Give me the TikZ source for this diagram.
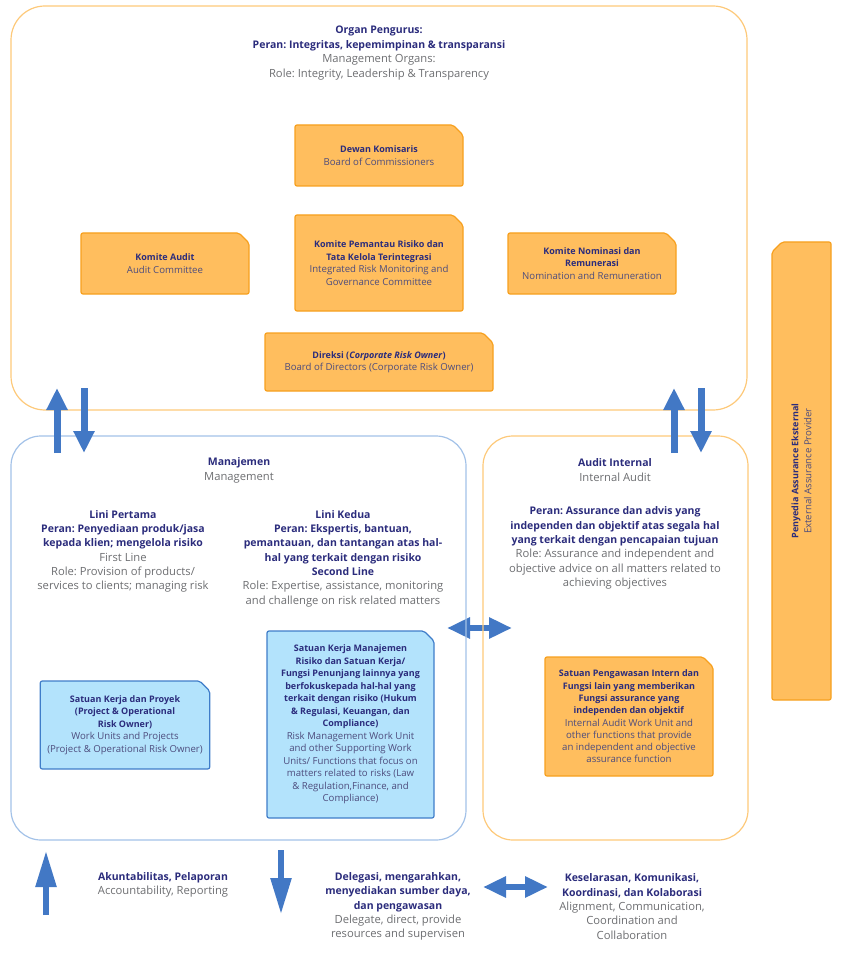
\documentclass[tikz,border=0pt]{standalone}
\usepackage{fontspec}
\setmainfont{Open Sans}
\newfontfamily\enfont[Scale=1.07]{Open Sans}
\frenchspacing
\usetikzlibrary{arrows.meta,shapes.misc}
\definecolor{navy}{HTML}{2B2C7C}
\definecolor{engray}{HTML}{6D6E71}
\definecolor{boxtxt}{HTML}{4D4C7D}
\definecolor{orfill}{HTML}{FFBE5E}
\definecolor{orline}{HTML}{F7A01E}
\definecolor{blfill}{HTML}{B3E3FC}
\definecolor{blline}{HTML}{3F7DC9}
\definecolor{panelor}{HTML}{FDC97A}
\definecolor{panelbl}{HTML}{A3C2E8}
\definecolor{arrowbl}{HTML}{4278C5}
\newcommand\bl[1]{\textbf{#1}}
\newcommand\en[1]{{\enfont\color{engray}#1}}
\newcommand\enb[1]{{\enfont\color{boxtxt}#1}}
\tikzset{
  panel/.style={draw,line width=1.2pt,rounded corners=34pt},
  orgbox/.style={chamfered rectangle,chamfered rectangle corners=north east,
    chamfered rectangle sep=5pt,rounded corners=2pt,draw=orline,fill=orfill,
    line width=1.2pt,align=center,text=navy,inner sep=2pt,
    font=\fontsize{9}{12.5}\selectfont},
  unitbox/.style={orgbox,draw=blline,fill=blfill},
  lbl/.style={align=center,text=navy,font=\fontsize{10.5}{14.3}\selectfont},
  fatarrow/.style={draw=arrowbl,line width=7pt,-{Triangle[width=20pt,length=22pt]}},
  thinarrow/.style={draw=arrowbl,line width=5.5pt,-{Triangle[width=20pt,length=36pt]}},
  twoway/.style={draw=arrowbl,line width=6pt,{Triangle[width=20pt,length=23pt]}-{Triangle[width=20pt,length=23pt]}}
}
\begin{document}
\begin{tikzpicture}[x=1pt,y=-1pt]
\useasboundingbox (0,0) rectangle (841,957);

% links between management and internal audit (under the panel lines)
\coordinate (mE) at (447,628);
\coordinate (aW) at (512,628);
\draw[twoway] (mE) -- (aW);

% panels
\node[panel,draw=panelor,minimum width=736pt,minimum height=404pt] (organ) at (379,208) {};
\node[panel,draw=panelbl,rounded corners=30pt,minimum width=455pt,minimum height=404pt] (mgmt) at (238.5,638) {};
\node[panel,draw=panelor,rounded corners=30pt,minimum width=265pt,minimum height=404pt] (audit) at (615.5,638) {};

% organ pengurus
\node[lbl,font=\fontsize{10.5}{14.7}\selectfont] (organT) at (379,53)
  {\bl{Organ Pengurus:}\\\bl{Peran: Integritas, kepemimpinan \& transparansi}\\
   \en{Management Organs:}\\\en{Role: Integrity, Leadership \& Transparency}};
\node[orgbox,minimum width=168pt,minimum height=61pt] (dewan) at (379,155.5)
  {\bl{Dewan Komisaris}\\\enb{Board of Commissioners}};
\node[orgbox,minimum width=168pt,minimum height=96pt] (pemantau) at (379,263)
  {\bl{Komite Pemantau Risiko dan}\\\bl{Tata Kelola Terintegrasi}\\
   \enb{Integrated Risk Monitoring and}\\\enb{Governance Committee}};
\node[orgbox,minimum width=168pt,minimum height=61pt] (kaudit) at (165,263.5)
  {\bl{Komite Audit}\\\enb{Audit Committee}};
\node[orgbox,minimum width=168pt,minimum height=61pt] (nominasi) at (592,263.5)
  {\bl{Komite Nominasi dan}\\\bl{Remunerasi}\\\enb{Nomination and Remuneration}};
\node[orgbox,minimum width=228pt,minimum height=58pt] (direksi) at (379,362)
  {\bl{Direksi (\textit{Corporate Risk Owner})}\\\enb{Board of Directors (Corporate Risk Owner)}};

% manajemen
\node[lbl,font=\fontsize{10.5}{15}\selectfont] (mgmtT) at (239,470.5)
  {\bl{Manajemen}\\\en{Management}};
\node[lbl] (lini1) at (123,551.5)
  {\bl{Lini Pertama}\\\bl{Peran: Penyediaan produk/jasa}\\\bl{kepada klien; mengelola risiko}\\
   \en{First Line}\\\en{Role: Provision of products/}\\\en{services to clients; managing risk}};
\node[lbl] (lini2) at (343,558.5)
  {\bl{Lini Kedua}\\\bl{Peran: Ekspertis, bantuan,}\\\bl{pemantauan, dan tantangan atas hal-}\\
   \bl{hal yang terkait dengan risiko}\\\bl{Second Line}\\
   \en{Role: Expertise, assistance, monitoring}\\\en{and challenge on risk related matters}};
\node[unitbox,minimum width=168pt,minimum height=88pt] (proyek) at (125,725)
  {\bl{Satuan Kerja dan Proyek}\\\bl{(Project \& Operational}\\\bl{Risk Owner)}\\
   \enb{Work Units and Projects}\\\enb{(Project \& Operational Risk Owner)}};
\node[unitbox,minimum width=167pt,minimum height=187pt] (mrisk) at (350.5,724.5)
  {\bl{Satuan Kerja Manajemen}\\\bl{Risiko dan Satuan Kerja/}\\\bl{Fungsi Penunjang lainnya yang}\\
   \bl{berfokuskepada hal-hal yang}\\\bl{terkait dengan risiko (Hukum}\\\bl{\& Regulasi, Keuangan, dan}\\
   \bl{Compliance)}\\
   \enb{Risk Management Work Unit}\\\enb{and other Supporting Work}\\\enb{Units/ Functions that focus on}\\
   \enb{matters related to risks (Law}\\\enb{\& Regulation,Finance, and}\\\enb{Compliance)}};

% audit internal
\node[lbl,font=\fontsize{10.5}{15}\selectfont] (auditT) at (615,470.5)
  {\bl{Audit Internal}\\\en{Internal Audit}};
\node[lbl] (auditR) at (615,548)
  {\bl{Peran: Assurance dan advis yang}\\\bl{independen dan objektif atas segala hal}\\
   \bl{yang terkait dengan pencapaian tujuan}\\
   \en{Role: Assurance and independent and}\\\en{objective advice on all matters related to}\\
   \en{achieving objectives}};
\node[orgbox,minimum width=168pt,minimum height=119pt,font=\fontsize{9}{12.3}\selectfont] (spi) at (629,716.5)
  {\bl{Satuan Pengawasan Intern dan}\\\bl{Fungsi lain yang memberikan}\\\bl{Fungsi assurance yang}\\
   \bl{independen dan objektif}\\
   \enb{Internal Audit Work Unit and}\\\enb{other functions that provide}\\
   \enb{an independent and objective}\\\enb{assurance function}};

% penyedia eksternal
\node[orgbox,rotate=90,minimum width=458pt,minimum height=59pt,font=\fontsize{9}{13}\selectfont] (ext) at (801.5,471)
  {\bl{Penyedia Assurance Eksternal}\\\enb{External Assurance Provider}};

% arrows between panels
\coordinate (mL1) at (57,453);
\coordinate (oL1) at (57,388);
\coordinate (oL2) at (84,388);
\coordinate (mL2) at (84,453);
\coordinate (aR1) at (674,453);
\coordinate (oR1) at (674,388);
\coordinate (oR2) at (701,388);
\coordinate (aR2) at (701,453);
\draw[fatarrow] (mL1) -- (oL1);
\draw[fatarrow] (oL2) -- (mL2);
\draw[fatarrow] (aR1) -- (oR1);
\draw[fatarrow] (oR2) -- (aR2);

% legend
\coordinate (up1) at (46,915);
\coordinate (up2) at (46,851);
\coordinate (dn1) at (281,850);
\coordinate (dn2) at (281,914);
\coordinate (lrL) at (483,887);
\coordinate (lrR) at (548,887);
\draw[thinarrow] (up1) -- (up2);
\draw[thinarrow] (dn1) -- (dn2);
\draw[twoway] (lrL) -- (lrR);
\node[lbl] (akun) at (163,885)
  {\bl{Akuntabilitas, Pelaporan}\\\en{Accountability, Reporting}};
\node[lbl] (deleg) at (398,906.5)
  {\bl{Delegasi, mengarahkan,}\\\bl{menyediakan sumber daya,}\\\bl{dan pengawasan}\\
   \en{Delegate, direct, provide}\\\en{resources and supervisen}};
\node[lbl] (selaras) at (632,906.5)
  {\bl{Keselarasan, Komunikasi,}\\\bl{Koordinasi, dan Kolaborasi}\\
   \en{Alignment, Communication,}\\\en{Coordination and}\\\en{Collaboration}};
\end{tikzpicture}
\end{document}
